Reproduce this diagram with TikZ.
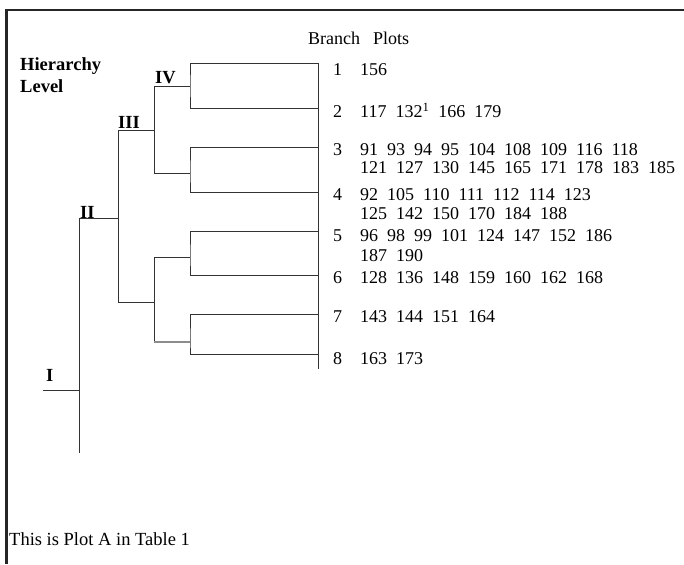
\documentclass[tikz,border=0pt]{standalone}
\usepackage{fontspec}
\setmainfont{Liberation Serif}
\begin{document}
\begin{tikzpicture}[x=1pt,y=-1pt,
  frame/.style={line width=2.8pt,draw=black!85},
  tree/.style={line width=0.9pt,draw=black!80},
  txt/.style={inner sep=0pt,anchor=base west,font={\fontsize{18}{21}\selectfont\spaceskip=0.5em\relax}},
  lvl/.style={inner sep=0pt,anchor=base west,font={\fontsize{18.5}{21}\selectfont\bfseries}}]
\useasboundingbox (0,0) rectangle (684,564);
% frame
\coordinate (f1) at (684,10);
\coordinate (f2) at (6.5,10);
\coordinate (f3) at (6.5,564);
\draw[frame] (f1) -- (f2) -- (f3);
% leaf ends
\coordinate (e1) at (318,63);
\coordinate (e2) at (318,108);
\coordinate (e3) at (318,147);
\coordinate (e4) at (318,192);
\coordinate (e5) at (318,231);
\coordinate (e6) at (318,275);
\coordinate (e7) at (318,314);
\coordinate (e8) at (318,354);
\coordinate (eb) at (318,369);
% level IV joins
\coordinate (p12) at (190,86);
\coordinate (p34) at (190,173);
\coordinate (p56) at (190,257);
\coordinate (p78) at (190,342);
\coordinate (q12) at (154,86);
\coordinate (q34) at (154,173);
\coordinate (q56) at (154,257);
\coordinate (q78) at (154,342);
% level III
\coordinate (r1) at (154,130);
\coordinate (s1) at (118,130);
\coordinate (r2) at (154,302);
\coordinate (s2) at (118,302);
% level II
\coordinate (t1) at (118,218);
\coordinate (u1) at (79,218);
\coordinate (u2) at (79,453);
% level I
\coordinate (w1) at (79,390);
\coordinate (w2) at (43,390);
% tree drawing
\draw[tree] (e1) -- (eb);
\draw[tree] (e1) -| (p12) |- (e2);
\draw[tree] (e3) -| (p34) |- (e4);
\draw[tree] (e5) -| (p56) |- (e6);
\draw[tree] (e7) -| (p78) |- (e8);
\draw[tree] (p12) -- (q12) -- (q34) -- (p34);
\draw[tree] (p56) -- (q56) -- (q78);
\draw[line width=1.6pt,draw=black!45] (q78) -- (p78);
\draw[tree] (r1) -- (s1) -- (s2) -- (r2);
\draw[tree] (t1) -- (u1) -- (u2);
\draw[tree] (w1) -- (w2);
% headings
\node[txt] (bp) at (308,45) {Branch\hspace{0.72em}Plots};
\node[lvl] (h1) at (20,71) {Hierarchy};
\node[lvl] (h2) at (20,93) {Level};
\node[lvl] (l4) at (155,84) {IV};
\node[lvl] (l3) at (118,129) {III};
\node[lvl] (l2) at (80,218) {II};
\node[lvl] (l1) at (46,381) {I};
% branch numbers
\node[txt] (n1) at (333,76) {1};
\node[txt] (n2) at (333,118) {2};
\node[txt] (n3) at (333,155) {3};
\node[txt] (n4) at (333,200) {4};
\node[txt] (n5) at (333,241) {5};
\node[txt] (n6) at (333,283) {6};
\node[txt] (n7) at (333,322) {7};
\node[txt] (n8) at (333,364) {8};
% plots
\node[txt] (b1) at (360,76) {156};
\node[txt] (b2) at (360,118) {117 132\textsuperscript{1} 166 179};
\node[txt] (b3a) at (360,155) {91 93 94 95 104 108 109 116 118};
\node[txt] (b3b) at (360,173) {121 127 130 145 165 171 178 183 185};
\node[txt] (b4a) at (360,200) {92 105 110 111 112 114 123};
\node[txt] (b4b) at (360,219) {125 142 150 170 184 188};
\node[txt] (b5a) at (360,241) {96 98 99 101 124 147 152 186};
\node[txt] (b5b) at (360,261) {187 190};
\node[txt] (b6) at (360,283) {128 136 148 159 160 162 168};
\node[txt] (b7) at (360,322) {143 144 151 164};
\node[txt] (b8) at (360,364) {163 173};
% footer
\node[inner sep=0pt,anchor=base west,font={\fontsize{18.5}{21}\selectfont}] (ft) at (9,545) {This is Plot A in Table 1};
\end{tikzpicture}
\end{document}
